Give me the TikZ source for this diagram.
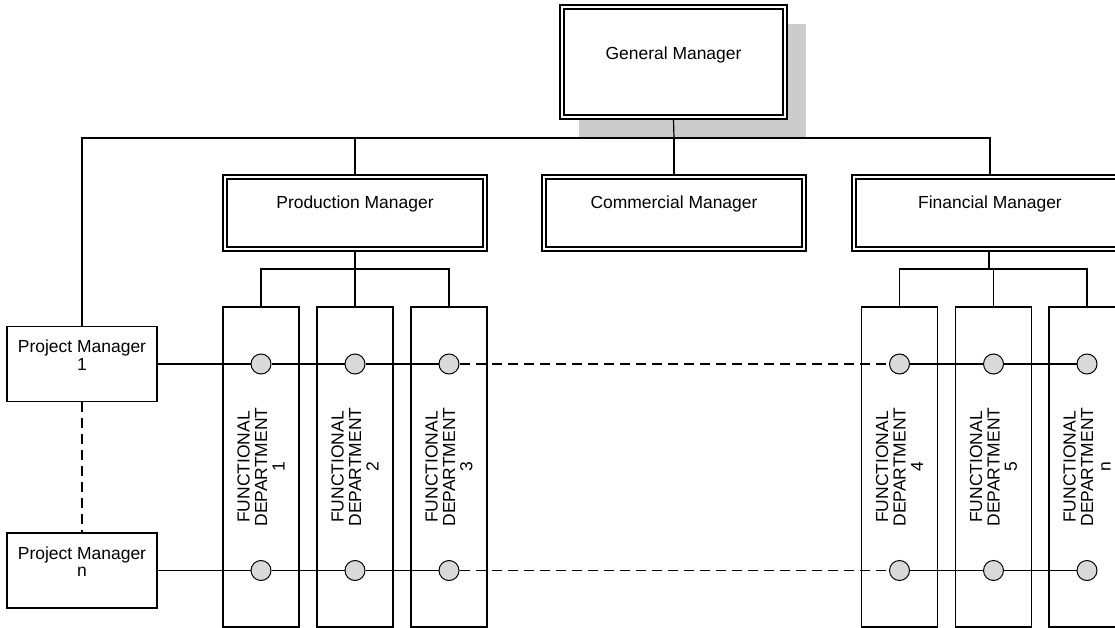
\documentclass[tikz,border=0pt]{standalone}
\usepackage{fontspec}
\setmainfont{Liberation Sans}
\begin{document}
\begin{tikzpicture}[x=0.75pt,y=-0.75pt, line width=0.9pt,
  every node/.style={font=\fontsize{13.1pt}{13.1pt}\selectfont},
  dbl/.style={draw, double, double distance=2.1pt, fill=white, inner sep=0pt, outer sep=1.95pt, align=center},
  gmbox/.style={dbl, minimum width=167.25pt, minimum height=82.5pt},
  mgrbox/.style={dbl, minimum width=195pt, minimum height=54pt},
  finbox/.style={dbl, minimum width=204pt, minimum height=54pt},
  shadowbox/.style={fill=black!20, draw=none, minimum width=170.25pt, minimum height=85.5pt, inner sep=0pt},
  pmbox/.style={draw, fill=white, minimum width=112.5pt, minimum height=56.25pt, align=center, inner sep=0pt},
  deptbox/.style={draw, rotate=90, minimum width=240pt, minimum height=57pt, align=center, inner sep=0pt},
  dot/.style={circle, draw, fill=black!15, minimum size=15pt, inner sep=0pt, line width=0.75pt},
  dashline/.style={dash pattern=on 7.5pt off 4.5pt}]
\useasboundingbox (0,0) rectangle (1115,628);
\clip (0,0) rectangle (1115,628);

% top level
\node[shadowbox] (gms) at (692.5,81) {};
\node[gmbox] (gm) at (673.5,62) {General Manager\\\mbox{}};

% managers
\node[mgrbox] (prod) at (355,213) {Production Manager\\[3pt]\mbox{}};
\node[mgrbox] (comm) at (674,213) {Commercial Manager\\[3pt]\mbox{}};
\node[finbox] (fin) at (990,213) {Financial Manager\\[3pt]\mbox{}};

% departments
\node[deptbox] (d1) at (261,467) {FUNCTIONAL\\DEPARTMENT\\1};
\node[deptbox] (d2) at (355,467) {FUNCTIONAL\\DEPARTMENT\\2};
\node[deptbox] (d3) at (449,467) {FUNCTIONAL\\DEPARTMENT\\3};
\node[deptbox] (d4) at (899.5,467) {FUNCTIONAL\\DEPARTMENT\\4};
\node[deptbox] (d5) at (993.5,467) {FUNCTIONAL\\DEPARTMENT\\5};
\node[deptbox] (dn) at (1087,467) {FUNCTIONAL\\DEPARTMENT\\n};

% project managers
\node[pmbox] (pm1) at (82,364) {Project Manager\\1\\\mbox{}};
\node[pmbox] (pmn) at (82,570.5) {Project Manager\\n\\\mbox{}};

% matrix dots
\node[dot] (c11) at (261,364) {};
\node[dot] (c12) at (355,364) {};
\node[dot] (c13) at (449,364) {};
\node[dot] (c14) at (899.5,364) {};
\node[dot] (c15) at (993.5,364) {};
\node[dot] (c16) at (1087,364) {};
\node[dot] (cn1) at (261,570.5) {};
\node[dot] (cn2) at (355,570.5) {};
\node[dot] (cn3) at (449,570.5) {};
\node[dot] (cn4) at (899.5,570.5) {};
\node[dot] (cn5) at (993.5,570.5) {};
\node[dot] (cn6) at (1087,570.5) {};

% top bus
\coordinate (bus) at (674,138);
\draw (gm.south) -- (bus);
\draw (pm1.north) |- (bus) -| (fin.north);
\draw (prod.north) -- (prod.north |- bus);
\draw (comm.north) -- (comm.north |- bus);

% production bracket
\coordinate (pb) at (355,269);
\draw (prod.south) -- (pb);
\draw (d1.east) |- (pb) -| (d3.east);
\draw (d2.east) -- (pb);

% financial bracket
\coordinate (fb) at (989,269);
\draw (fin.south -| fb) -- (fb);
\draw (d4.east) |- (fb) -| (dn.east);
\draw (d5.east) -- (d5.east |- fb);

% project lines
\draw (pm1) -- (c11) -- (c12) -- (c13);
\draw[dashline] (c13) -- (c14);
\draw (c14) -- (c15) -- (c16);
\draw (pmn) -- (cn1) -- (cn2) -- (cn3);
\draw[dashline] (cn3) -- (cn4);
\draw (cn4) -- (cn5) -- (cn6);
\draw[dashline] (pm1) -- (pmn);
\end{tikzpicture}
\end{document}
